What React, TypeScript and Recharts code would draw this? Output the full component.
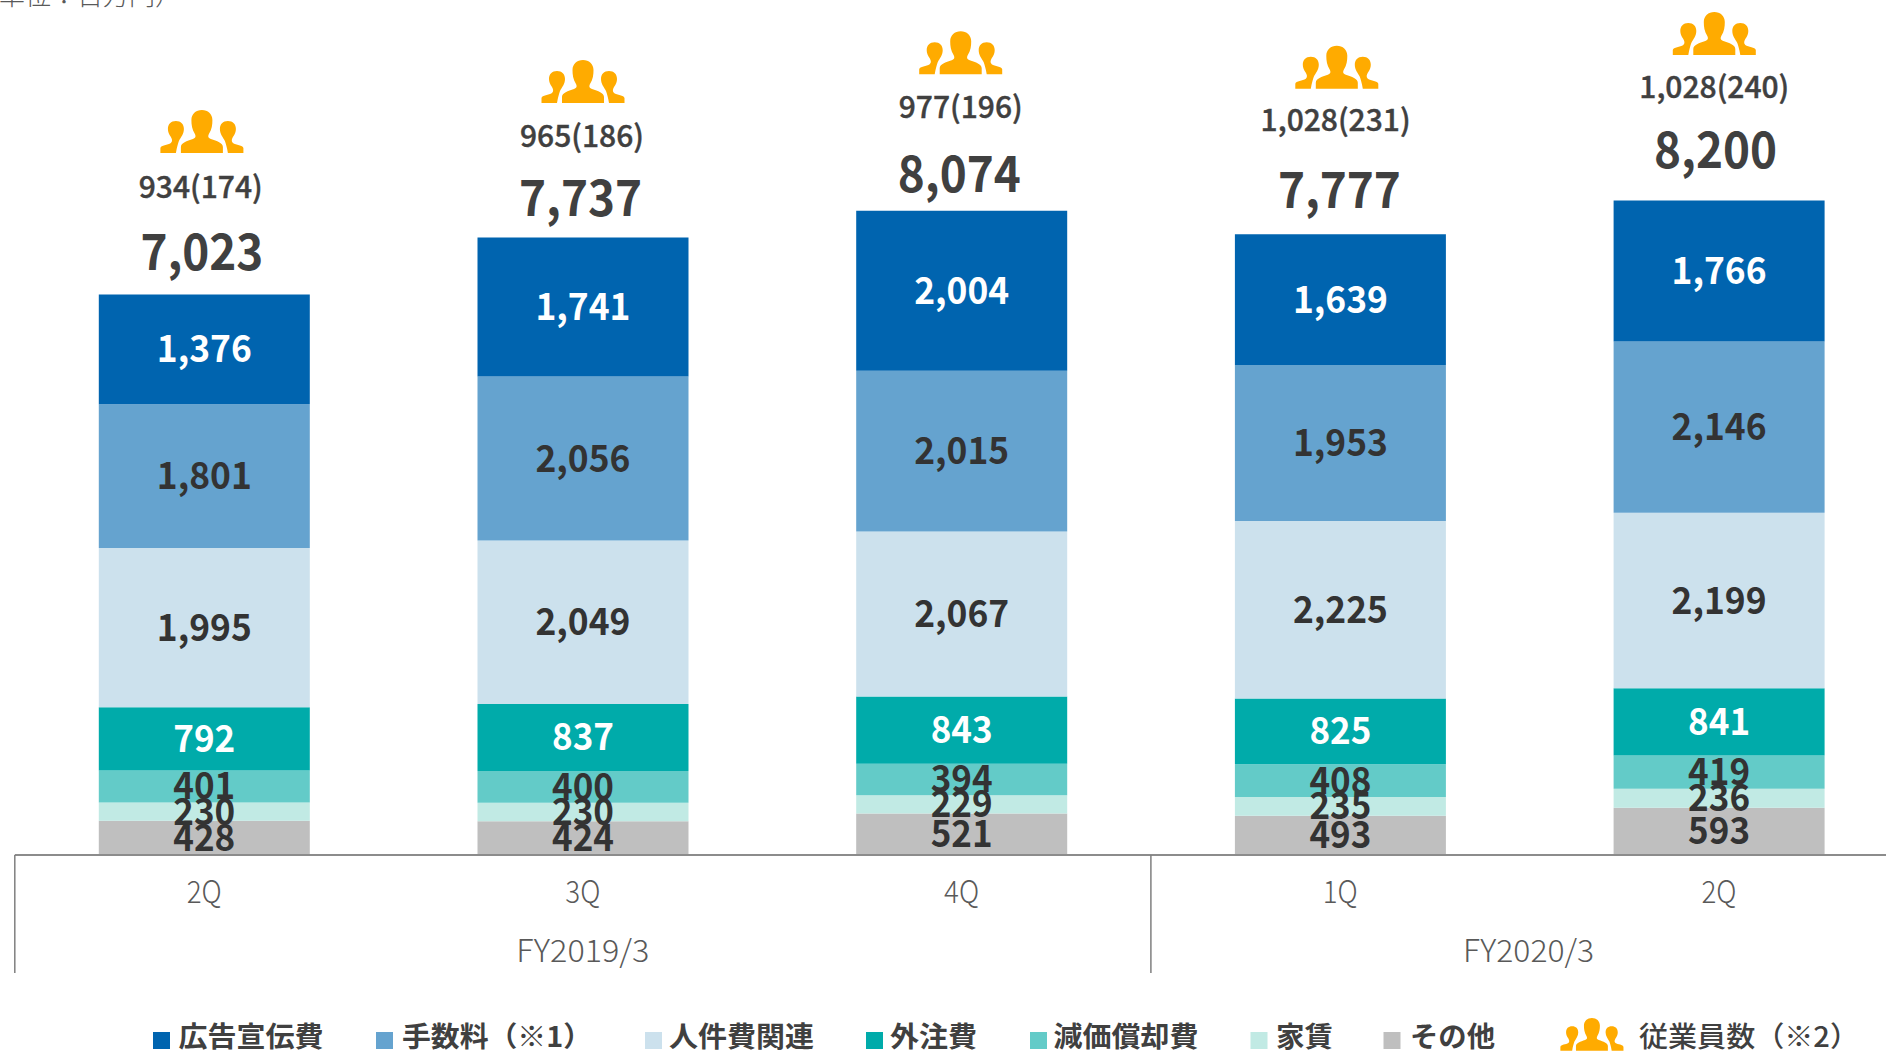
import React from "react";
import { BarChart, Bar, XAxis, YAxis, LabelList, Legend } from "recharts";

const quarters = ["2Q", "3Q", "4Q", "1Q", "2Q"];
const fiscalYears = ["FY2019/3", "FY2019/3", "FY2019/3", "FY2020/3", "FY2020/3"];
const advertising = [1376, 1741, 2004, 1639, 1766];
const commission = [1801, 2056, 2015, 1953, 2146];
const personnel = [1995, 2049, 2067, 2225, 2199];
const outsourcing = [792, 837, 843, 825, 841];
const depreciation = [401, 400, 394, 408, 419];
const rent = [230, 230, 229, 235, 236];
const other = [428, 424, 521, 493, 593];
const totals = [7023, 7737, 8074, 7777, 8200];
const employees = ["934(174)", "965(186)", "977(196)", "1,028(231)", "1,028(240)"];

const table = quarters.map((q, i) => ({
  q,
  fy: fiscalYears[i],
  advertising: advertising[i],
  commission: commission[i],
  personnel: personnel[i],
  outsourcing: outsourcing[i],
  depreciation: depreciation[i],
  rent: rent[i],
  other: other[i],
  total: totals[i],
}));

const FONT = '"Noto Sans CJK JP", "Noto Sans", sans-serif';
const ORANGE = "#FFAB00";

// vertical gaps above each bar top: total, employee count, icon centre
const totalGap = [43, 40, 37, 44, 51];
const staffGap = [108, 102, 104, 114, 114];
const iconGap = [163, 156, 158, 167, 167];
// horizontal shifts from each bar's centre
const totalShift = [-2.4, -2.4, -2.4, -1, -3.6];
const staffShift = [-3.6, -1, -1, -4.8, -4.8];
const iconShift = [-2.4, 0, -1, -3.6, -4.8];

const CENTER = "M21 43 L21 37 C21 33 27 31 33 29 C36 28 36 26 35 24 C32 19 31.5 15 31.5 10 C31.5 4 36 0 42 0 C48 0 52.5 4 52.5 10 C52.5 15 52 19 49 24 C48 26 48 28 51 29 C57 31 63 33 63 37 L63 43 Z";
const SIDE = "M0.5 43 L0.5 38 C1 35 8 35 11 33 C13 31 12 29 11 27 C9 24 8 22 8 19 C8 14 11 11 16 11 C21 11 24 14 24 19 C24 24 21 27 19 31 C18 34 17 37 16 43 Z";

const People = ({ x, y, s = 1 }: { x: number; y: number; s?: number }) => (
  <g transform={`translate(${x} ${y}) scale(${s})`} fill={ORANGE}>
    <path d={SIDE} />
    <path d={CENTER} />
    <path d={SIDE} transform="translate(84 0) scale(-1 1)" />
  </g>
);

const segmentLabel = (fill: string) => (p: any) => {
  const v = Number(p.value).toLocaleString("en-US");
  return (
    <text
      x={p.x + p.width / 2}
      y={p.y + p.height / 2 + 13}
      textAnchor="middle"
      fontFamily={FONT}
      fontWeight={700}
      fontSize={37}
      fill={fill}
      textLength={v.length === 3 ? 62 : 95}
      lengthAdjust="spacingAndGlyphs"
    >
      {v}
    </text>
  );
};

const TopLabel = (p: any) => {
  const i = p.index;
  const c = p.x + p.width / 2;
  return (
    <g>
      <People x={c + iconShift[i] - 42} y={p.y - iconGap[i] - 21.5} />
      <text x={c + staffShift[i]} y={p.y - staffGap[i] + 11} textAnchor="middle" fontFamily={FONT} fontWeight={500} fontSize={30} fill="#404040" stroke="#404040" strokeWidth={0.4}>
        {employees[i]}
      </text>
      <text x={c + totalShift[i]} y={p.y - totalGap[i] + 18} textAnchor="middle" fontFamily={FONT} fontWeight={700} fontSize={50} fill="#404040" textLength={123} lengthAdjust="spacingAndGlyphs">
        {Number(p.value).toLocaleString("en-US")}
      </text>
    </g>
  );
};

const QuarterTick = (p: any) => (
  <text x={p.x} y={891 + 12} textAnchor="middle" fontFamily={FONT} fontWeight={300} fontSize={31} fill="#595959" textLength={35} lengthAdjust="spacingAndGlyphs">
    {p.payload.value}
  </text>
);

const BAND = 378.7;
const FiscalTick = (p: any) => {
  const i = p.index;
  const line = (x: number) => <line x1={x} x2={x} y1={855} y2={973} stroke="#7f7f7f" strokeWidth={1.5} />;
  if (i === 0) return line(p.x - BAND / 2);
  if (i === 1) return (
    <text x={p.x} y={950 + 12} textAnchor="middle" fontFamily={FONT} fontWeight={300} fontSize={31} fill="#595959" textLength={133} lengthAdjust="spacingAndGlyphs">
      {p.payload.value}
    </text>
  );
  if (i === 3) return (
    <g>
      {line(p.x - BAND / 2)}
      <text x={p.x + BAND / 2 - 1} y={950 + 12} textAnchor="middle" fontFamily={FONT} fontWeight={300} fontSize={31} fill="#595959" textLength={131} lengthAdjust="spacingAndGlyphs">
        {p.payload.value}
      </text>
    </g>
  );
  return <g />;
};

const series = [
  { key: "other", name: "その他", color: "#BFBFBF", label: "#333333" },
  { key: "rent", name: "家賃", color: "#C1EAE4", label: "#333333" },
  { key: "depreciation", name: "減価償却費", color: "#63CBC8", label: "#333333" },
  { key: "outsourcing", name: "外注費", color: "#00ABAA", label: "#FFFFFF" },
  { key: "personnel", name: "人件費関連", color: "#CCE1ED", label: "#333333" },
  { key: "commission", name: "手数料（※1）", color: "#65A3CF", label: "#333333" },
  { key: "advertising", name: "広告宣伝費", color: "#0064AF", label: "#FFFFFF" },
];

// square x, text x, text width for each legend entry (top series first)
const legendPos = [
  [153, 178.5, 145],
  [376, 402, 190],
  [645, 669, 145],
  [866, 890, 87],
  [1030, 1053.5, 145],
  [1250.5, 1276, 57],
  [1383.5, 1410, 85],
];

const LegendContent = (props: any) => {
  const payload = props.payload || [];
  const items = [...series].reverse().map((s) => payload.find((it: any) => it.value === s.name)).filter(Boolean);
  return (
    <svg width={1886} height={1051} style={{ position: "absolute", left: 0, top: 0, pointerEvents: "none", overflow: "visible" }}>
      {items.map((it: any, i: number) => (
        <g key={it.value}>
          <rect x={legendPos[i][0]} y={1032} width={17} height={17} fill={it.color} />
          <text x={legendPos[i][1]} y={1047} fontFamily={FONT} fontWeight={700} fontSize={28} fill="#404040" textLength={legendPos[i][2]} lengthAdjust="spacingAndGlyphs">
            {it.value}
          </text>
        </g>
      ))}
      <People x={1560} y={1018} s={0.76} />
      <text x={1639} y={1047} fontFamily={FONT} fontWeight={500} fontSize={28} fill="#404040" textLength={220} lengthAdjust="spacingAndGlyphs">
        従業員数（※2）
      </text>
    </svg>
  );
};

export default function App() {
  return (
    <div style={{ position: "absolute", left: 0, top: 0, width: 1886, height: 1051, overflow: "hidden", background: "#fff" }}>
      <BarChart
        width={1920}
        height={1051}
        data={table}
        barSize={211}
        margin={{ top: 0, left: 14.8, right: 11.7, bottom: 0 }}
      >
        <YAxis hide domain={[0, 10714]} />
        <XAxis dataKey="q" height={50} interval={0} tick={QuarterTick} tickLine={false} axisLine={{ stroke: "#8c8c8c", strokeWidth: 2 }} />
        <XAxis xAxisId="fy" dataKey="fy" height={146} interval={0} tick={FiscalTick} tickLine={false} axisLine={false} />
        <Legend content={LegendContent} wrapperStyle={{ left: 0, top: 0, bottom: "auto", width: 1886 }} />
        {series.map((s) => (
          <Bar key={s.key} dataKey={s.key} name={s.name} stackId="a" fill={s.color} isAnimationActive={false}>
            <LabelList dataKey={s.key} content={segmentLabel(s.label)} />
            {s.key === "advertising" ? <LabelList dataKey="total" content={TopLabel} /> : null}
          </Bar>
        ))}
      </BarChart>
      <svg width={400} height={20} style={{ position: "absolute", left: 0, top: 0 }}>
        <text x={-1} y={5} fontFamily={FONT} fontWeight={300} fontSize={26} fill="#595959">単位：百万円）</text>
      </svg>
    </div>
  );
}
